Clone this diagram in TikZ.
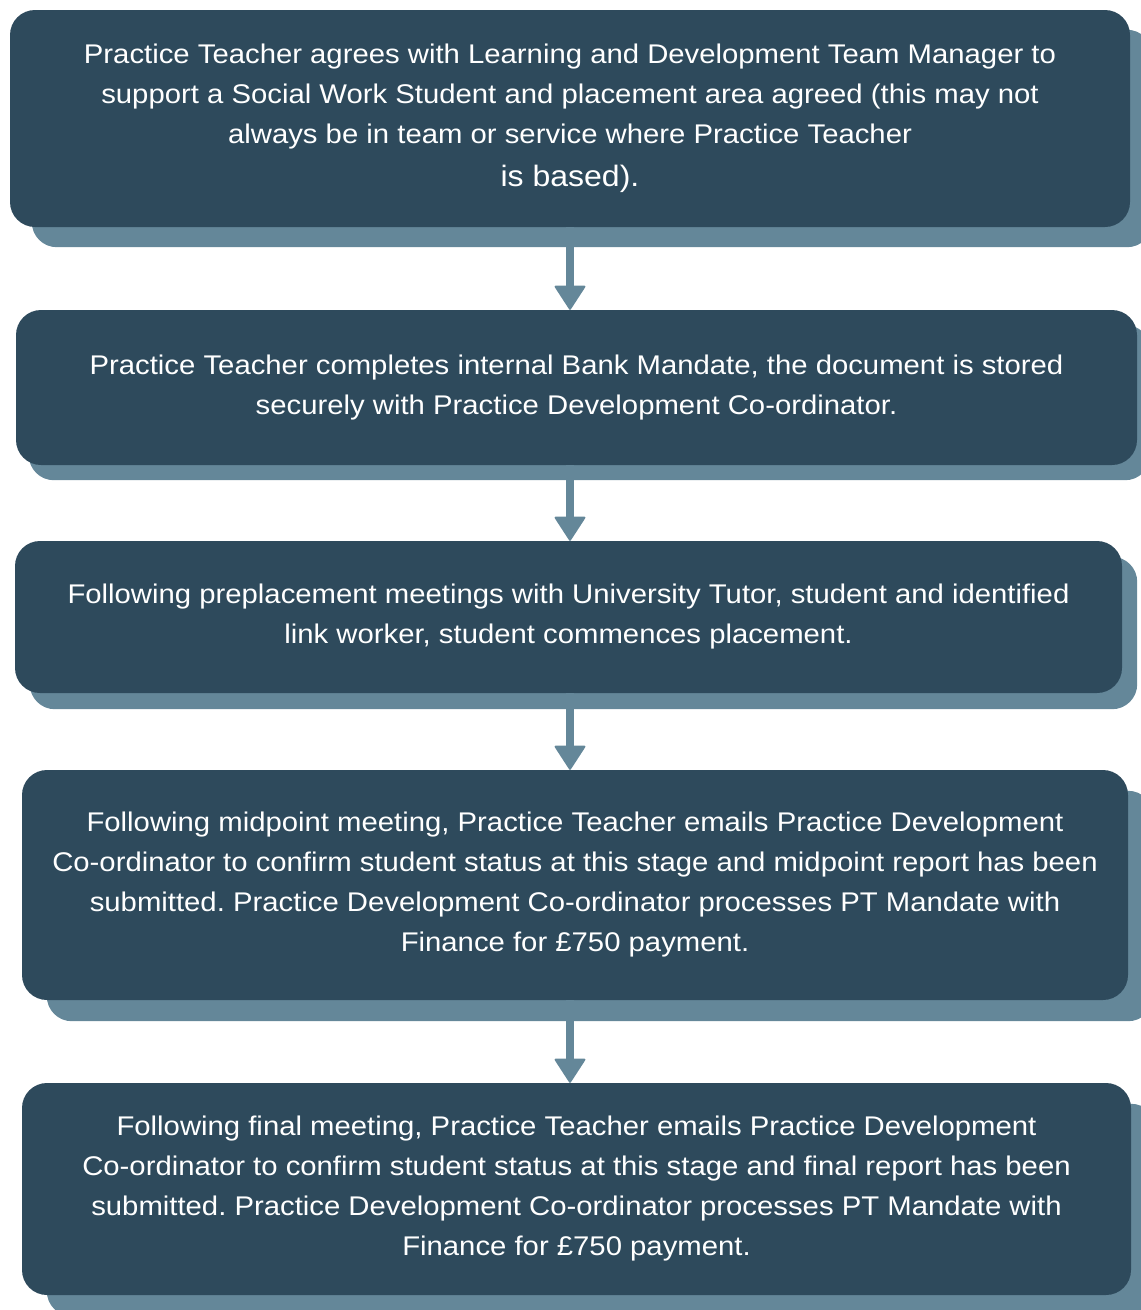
\documentclass[tikz,border=0pt]{standalone}
\usepackage{fontspec}
\setmainfont[FakeStretch=1.085]{Liberation Sans}
\usetikzlibrary{arrows.meta,backgrounds}
\definecolor{boxblue}{HTML}{2E4A5C}
\definecolor{shadeblue}{HTML}{648799}
\frenchspacing

\begin{document}
\begin{tikzpicture}[x=1pt,y=-1pt,
	stage/.style={fill=boxblue,text=white,rounded corners=25pt,align=center,inner sep=0pt,
		font=\fontsize{27}{40}\selectfont},
	flow/.style={shadeblue,line width=8pt,-{Triangle[width=32pt,length=25pt,line width=2pt,round]}}]
	\useasboundingbox (0,0) rectangle (1141,1310);
	\node[stage,minimum width=1120pt,minimum height=217pt] (b1) at (570,118.5)
		{Practice Teacher agrees with Learning and Development Team Manager to\\
		support a Social Work Student and placement area agreed (this may not\\
		always be in team or service where Practice Teacher\\[3pt]
		{\fontsize{29.5}{40}\selectfont is based).}};
	\node[stage,minimum width=1121pt,minimum height=155pt] (b2) at (576.5,387.5)
		{Practice Teacher completes internal Bank Mandate, the document is stored\\
		securely with Practice Development Co-ordinator.};
	\node[stage,minimum width=1107pt,minimum height=152pt] (b3) at (568.5,617)
		{Following preplacement meetings with University Tutor, student and identified\\
		link worker, student commences placement.};
	\node[stage,minimum width=1106pt,minimum height=230pt] (b4) at (575,885)
		{Following midpoint meeting, Practice Teacher emails Practice Development\\
		Co-ordinator to confirm student status at this stage and midpoint report has been\\
		submitted. Practice Development Co-ordinator processes PT Mandate with\\
		Finance for £750 payment.};
	\node[stage,minimum width=1109pt,minimum height=212pt] (b5) at (576.5,1189)
		{Following final meeting, Practice Teacher emails Practice Development\\
		Co-ordinator to confirm student status at this stage and final report has been\\
		submitted. Practice Development Co-ordinator processes PT Mandate with\\
		Finance for £750 payment.};
	\begin{scope}[on background layer]
		\foreach \n/\dx/\dy in {b1/22/20,b2/13/15,b3/15/16,b4/25/21,b5/25/21}
			\fill[shadeblue,rounded corners=25pt] ([shift={(\dx,\dy)}]\n.south west) rectangle ([shift={(\dx,\dy)}]\n.north east);
	\end{scope}
	\foreach \a/\b in {b1/b2,b2/b3,b3/b4,b4/b5} \draw[flow] (\a.south -| b1.south) -- (\b.north -| b1.south);
\end{tikzpicture}
\end{document}
